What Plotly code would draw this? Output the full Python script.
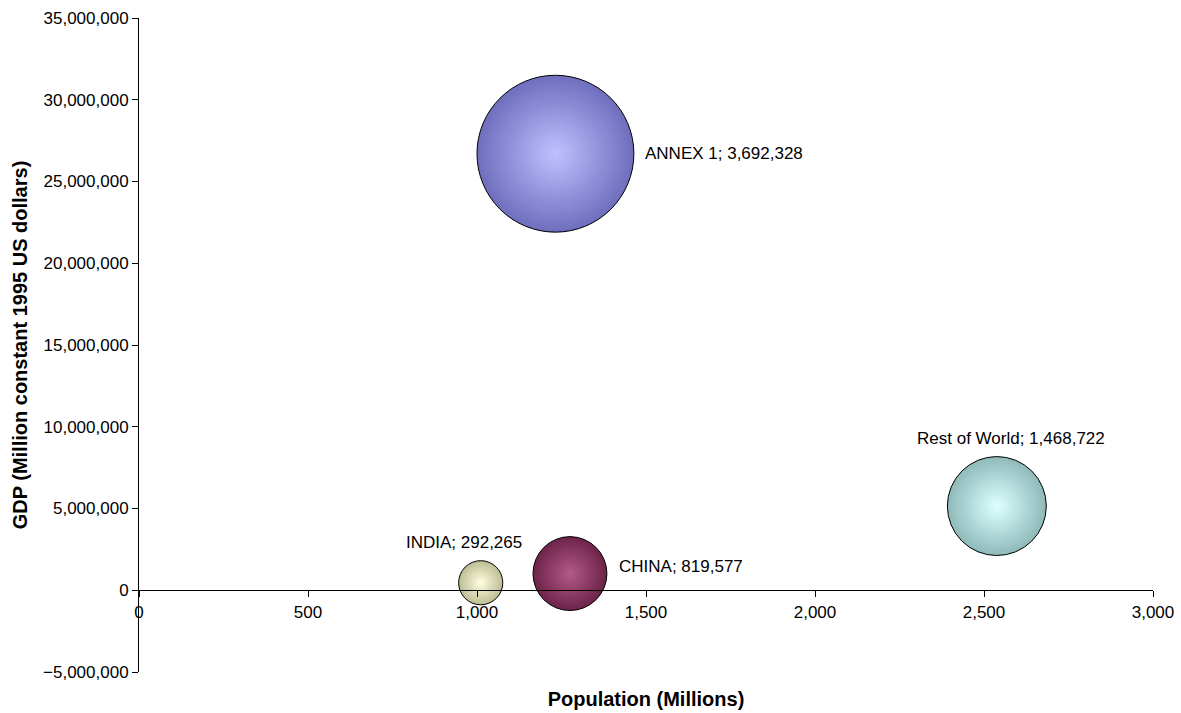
import plotly.graph_objects as go

# Data
regions = ["ANNEX 1", "CHINA", "INDIA", "Rest of World"]
population = [1232, 1275, 1011, 2538]            # millions
gdp = [26700000, 1020000, 460000, 5150000]       # million constant 1995 US dollars
bubble_size = [3692328, 819577, 292265, 1468722]
edge_colors = ["#6e6ebe", "#6c2349", "#bcbc94", "#8fbaba"]
center_colors = ["#c0c0ff", "#b35a88", "#ffffe2", "#deffff"]
# label placement offsets in pixels (style only)
label_xanchor = ["left", "left", "center", "center"]
label_xshift = [88, 47, -17, 14]
label_yshift = [0, 7, 40, 68]

labels = [f"{r}; {s:,}" for r, s in zip(regions, bubble_size)]
LABEL_FONT = dict(family="Liberation Sans, Arial", size=17, color="black")

fig = go.Figure()
for i in range(len(regions)):
    fig.add_trace(go.Scatter(
        x=[population[i]], y=[gdp[i]],
        mode="markers",
        marker=dict(
            size=[bubble_size[i]], sizemode="area", sizeref=300,
            color=edge_colors[i],
            gradient=dict(type="radial", color=center_colors[i]),
            line=dict(color="black", width=1),
            opacity=1,
        ),
        name=regions[i],
        hoverinfo="skip",
        showlegend=False,
        cliponaxis=False,
    ))
    fig.add_annotation(x=population[i], y=gdp[i], text=labels[i], showarrow=False,
                       xanchor=label_xanchor[i], yanchor="middle",
                       xshift=label_xshift[i], yshift=label_yshift[i], font=LABEL_FONT)

fig.update_layout(
    width=1181, height=713,
    margin=dict(l=139, r=28, t=18, b=41),
    paper_bgcolor="white", plot_bgcolor="white",
    font=dict(family="Liberation Sans, Arial", size=17, color="black"),
    xaxis=dict(
        range=[0, 3000], dtick=500, tick0=0, tickformat=",",
        showgrid=False, zeroline=False,
        showline=True, linecolor="black", linewidth=1,
        ticks="outside", ticklen=6, tickcolor="black",
        anchor="free", position=0.125,
        title=dict(text="<b>Population (Millions)</b>", font=dict(size=20), standoff=71),
        automargin=False,
    ),
    yaxis=dict(
        range=[-5000000, 35000000], dtick=5000000, tick0=0, tickformat=",",
        showgrid=False, zeroline=False,
        showline=True, linecolor="black", linewidth=1,
        ticks="outside", ticklen=6, tickcolor="black",
        title=dict(text="<b>GDP (Million constant 1995 US dollars)</b>", font=dict(size=20), standoff=10),
        automargin=False,
    ),
)

fig.write_html("out.html")
